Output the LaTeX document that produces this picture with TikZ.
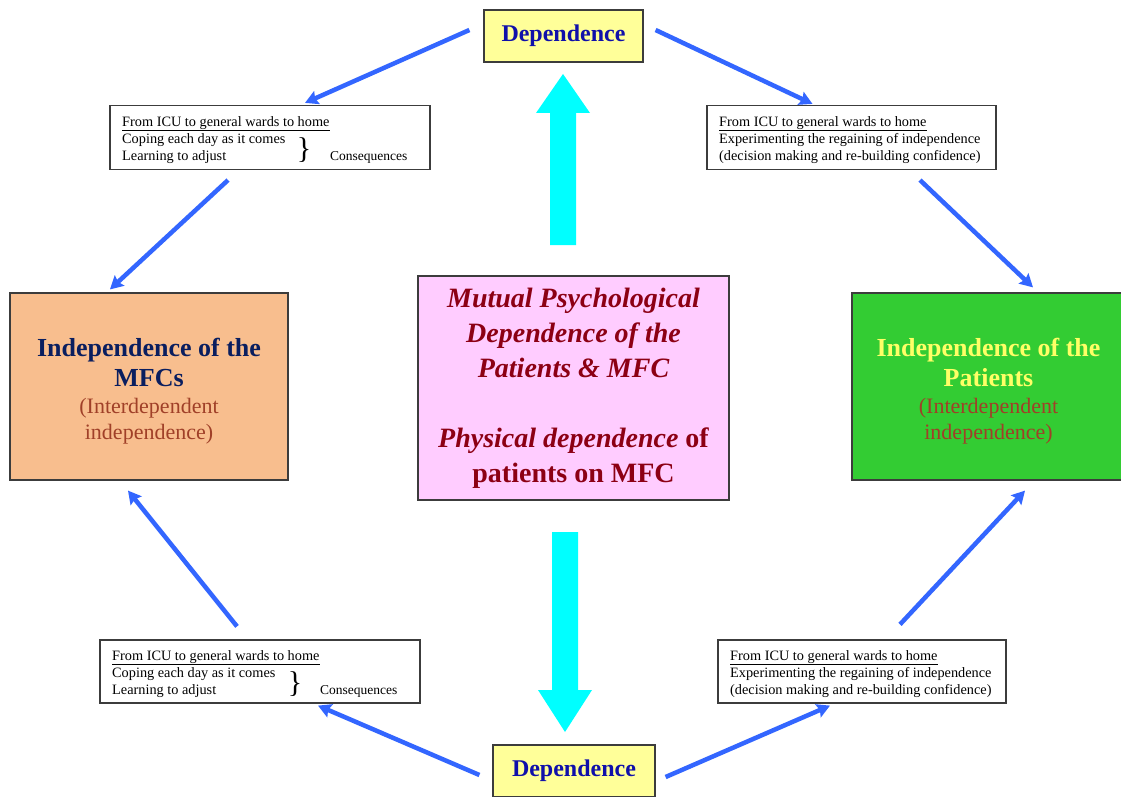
\documentclass[tikz,border=0pt]{standalone}
\usepackage{fontspec}
\setmainfont{Liberation Serif}
\usetikzlibrary{arrows.meta}
\definecolor{arrowblue}{RGB}{51,102,255}
\definecolor{depfill}{RGB}{255,255,153}
\definecolor{deptext}{RGB}{16,16,170}
\definecolor{orangefill}{RGB}{248,190,142}
\definecolor{pinkfill}{RGB}{255,204,255}
\definecolor{greenfill}{RGB}{51,204,51}
\definecolor{centertext}{RGB}{140,0,20}
\definecolor{navytext}{RGB}{10,30,95}
\definecolor{subtext}{RGB}{160,64,40}
\definecolor{yellowtext}{RGB}{255,255,102}
\definecolor{edgegray}{RGB}{60,60,60}
\definecolor{blockcyan}{RGB}{0,255,255}
\newcommand{\titlefont}{\fontsize{26}{30}\selectfont\bfseries}
\newcommand{\subfont}{\fontsize{22}{26}\selectfont\color{subtext}}
\newcommand{\lowered}[1]{\raisebox{0pt}[\dimexpr\height+12pt\relax][\depth]{#1}}
\tikzset{
  x=1pt, y=-1pt,
  boxedge/.style={draw=edgegray, line width=1.2pt, inner sep=0pt},
  depbox/.style={boxedge, fill=depfill, minimum width=159pt, minimum height=52pt,
    font=\fontsize{24}{28}\selectfont\bfseries, text=deptext},
  smallbox/.style={boxedge, fill=white, minimum height=64pt},
  smalltext/.style={anchor=north west, align=left, inner sep=0pt, font=\fontsize{14.3}{17}\selectfont},
  bracetext/.style={inner sep=0pt, font=\fontsize{30}{30}\selectfont},
  constext/.style={anchor=base west, inner sep=0pt, font=\fontsize{13.5}{16}\selectfont},
  bigbox/.style={boxedge, minimum height=187pt, font=\fontsize{22}{26}\selectfont},
  flowarrow/.style={draw=arrowblue, line width=4.5pt, -{Stealth[length=13pt,width=14pt,inset=2pt]}},
}
\begin{document}
\begin{tikzpicture}
\useasboundingbox (0,0) rectangle (1121,797);
\fill[white] (0,0) rectangle (1121,797);

% Dependence boxes
\node[depbox] (depT) at (563.5,36) {Dependence};
\node[depbox, minimum width=162pt] (depB) at (574,771) {Dependence};

% small boxes
\node[smallbox, minimum width=320pt] (tl) at (270,137.5) {};
\node[smallbox, minimum width=289pt] (tr) at (851.5,137.5) {};
\node[smallbox, minimum width=320pt, minimum height=63pt] (bl) at (260,671.5) {};
\node[smallbox, minimum width=288pt, minimum height=63pt] (br) at (862,671.5) {};

\node[smalltext] (tlt) at (122,116) {\underline{From ICU to general wards to home}\\Coping each day as it comes\\Learning to adjust};
\node[bracetext] (tlb) at (304,150) {\}};
\node[constext] (tlc) at (330,160) {Consequences};

\node[smalltext] (trt) at (719,116) {\underline{From ICU to general wards to home}\\Experimenting the regaining of independence\\(decision making and re-building confidence)};

\node[smalltext] (blt) at (112,650) {\underline{From ICU to general wards to home}\\Coping each day as it comes\\Learning to adjust};
\node[bracetext] (blb) at (295,684) {\}};
\node[constext] (blc) at (320,694) {Consequences};

\node[smalltext] (brt) at (730,650) {\underline{From ICU to general wards to home}\\Experimenting the regaining of independence\\(decision making and re-building confidence)};

% big boxes
\node[bigbox, fill=orangefill, minimum width=278pt] (left) at (149,386.5) {\lowered{%
  \begin{tabular}{@{}c@{}}
  \titlefont\color{navytext}Independence of the\\[4pt]
  \titlefont\color{navytext}MFCs\\[1pt]
  \subfont (Interdependent\\
  \subfont independence)
  \end{tabular}}};
\node[bigbox, fill=greenfill, minimum width=273pt] (right) at (988.5,386.5) {\lowered{%
  \begin{tabular}{@{}c@{}}
  \titlefont\color{yellowtext}Independence of the\\[4pt]
  \titlefont\color{yellowtext}Patients\\[1pt]
  \subfont (Interdependent\\
  \subfont independence)
  \end{tabular}}};
\node[boxedge, fill=pinkfill, minimum width=311pt, minimum height=224pt,
  font=\fontsize{28}{35}\selectfont\bfseries, text=centertext] (center) at (573.5,388) {%
  \begin{tabular}{@{}c@{}}
  \itshape Mutual Psychological\\
  \itshape Dependence of the\\
  \itshape Patients \& MFC\\[35pt]
  {\itshape Physical dependence} of\\
  patients on MFC
  \end{tabular}};

% cyan block arrows
\fill[blockcyan] (550,245) -- (550,113) -- (536,113) -- (563,74) -- (590,113) -- (576,113) -- (576,245) -- cycle;
\fill[blockcyan] (552,532) -- (552,690) -- (538,690) -- (565,732) -- (592,690) -- (578,690) -- (578,532) -- cycle;

% flow arrows
\draw[flowarrow] ([shift={(-14,-6)}]depT.west) -- ([shift={(35,-2)}]tl.north);
\draw[flowarrow] ([shift={(-42,10)}]tl.south) -- ([shift={(-39,-3)}]left.north);
\draw[flowarrow] ([shift={(-23,-13)}]bl.north) -- ([shift={(-21,10)}]left.south);
\draw[flowarrow] ([shift={(-13,4)}]depB.west) -- ([shift={(58,2)}]bl.south);
\draw[flowarrow] ([shift={(12,-6)}]depT.east) -- ([shift={(-39,-1)}]tr.north);
\draw[flowarrow] ([shift={(68.5,10)}]tr.south) -- ([shift={(44.5,-5)}]right.north);
\draw[flowarrow] ([shift={(38,-15)}]br.north) -- ([shift={(36.5,10)}]right.south);
\draw[flowarrow] ([shift={(10,6)}]depB.east) -- ([shift={(-32,2)}]br.south);
\end{tikzpicture}
\end{document}
